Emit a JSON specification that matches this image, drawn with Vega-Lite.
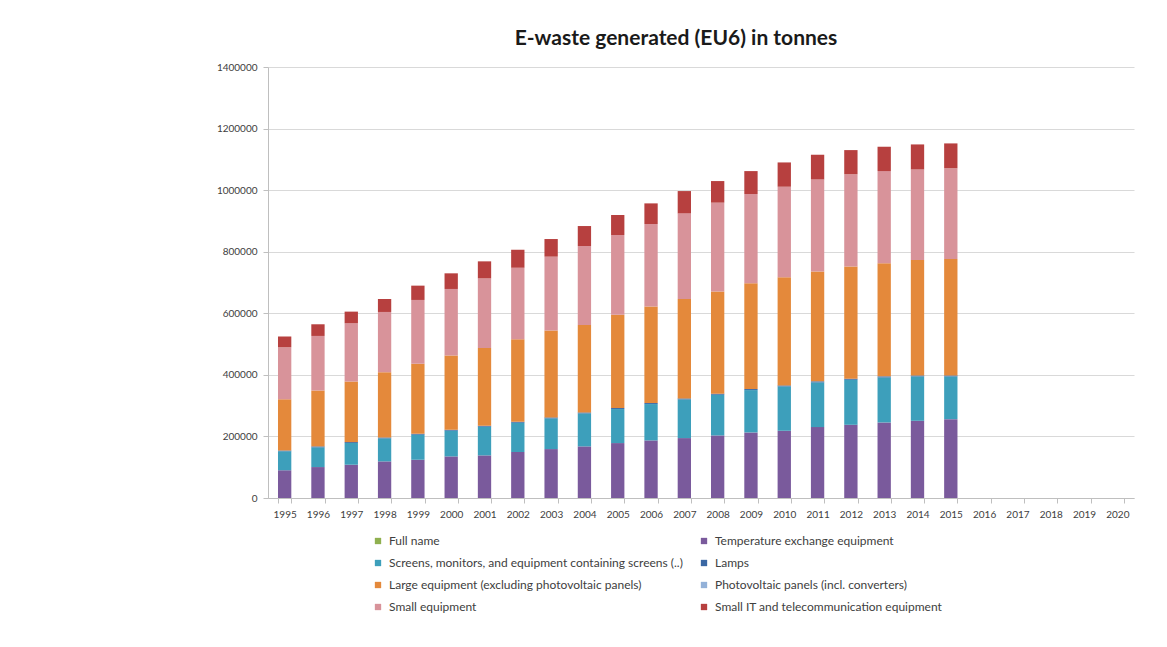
{
  "$schema": "https://vega.github.io/schema/vega-lite/v6.json",
  "autosize": {"type": "none"},
  "width": 866,
  "height": 431,
  "padding": {"left": 268, "top": 67, "right": 33, "bottom": 149},
  "background": "white",
  "title": {"text": "E-waste generated (EU6) in tonnes", "fontSize": 21, "fontWeight": "bold", "font": "Lato", "color": "#1a1a1a", "anchor": "middle", "dx": -25, "offset": 13},
  "config": {"view": {"stroke": null}, "font": "Lato"},
  "datasets": {
    "cats": [
      {"cat": "Full name", "rank": 0},
      {"cat": "Temperature exchange equipment", "rank": 1},
      {"cat": "Screens, monitors, and equipment containing screens (..)", "rank": 2},
      {"cat": "Lamps", "rank": 3},
      {"cat": "Large equipment (excluding photovoltaic panels)", "rank": 4},
      {"cat": "Photovoltaic panels (incl. converters)", "rank": 5},
      {"cat": "Small equipment", "rank": 6},
      {"cat": "Small IT and telecommunication equipment", "rank": 7}
    ]
  },
  "data": {"values": [
    {"year": 1995, "cat": "Temperature exchange equipment", "value": 90000},
    {"year": 1995, "cat": "Screens, monitors, and equipment containing screens (..)", "value": 61600},
    {"year": 1995, "cat": "Lamps", "value": 3000},
    {"year": 1995, "cat": "Large equipment (excluding photovoltaic panels)", "value": 166400},
    {"year": 1995, "cat": "Small equipment", "value": 168700},
    {"year": 1995, "cat": "Small IT and telecommunication equipment", "value": 34600},
    {"year": 1996, "cat": "Temperature exchange equipment", "value": 100500},
    {"year": 1996, "cat": "Screens, monitors, and equipment containing screens (..)", "value": 64100},
    {"year": 1996, "cat": "Lamps", "value": 3000},
    {"year": 1996, "cat": "Large equipment (excluding photovoltaic panels)", "value": 181600},
    {"year": 1996, "cat": "Small equipment", "value": 177200},
    {"year": 1996, "cat": "Small IT and telecommunication equipment", "value": 37900},
    {"year": 1997, "cat": "Temperature exchange equipment", "value": 108100},
    {"year": 1997, "cat": "Screens, monitors, and equipment containing screens (..)", "value": 70500},
    {"year": 1997, "cat": "Lamps", "value": 3000},
    {"year": 1997, "cat": "Large equipment (excluding photovoltaic panels)", "value": 196800},
    {"year": 1997, "cat": "Small equipment", "value": 189100},
    {"year": 1997, "cat": "Small IT and telecommunication equipment", "value": 37900},
    {"year": 1998, "cat": "Temperature exchange equipment", "value": 118900},
    {"year": 1998, "cat": "Screens, monitors, and equipment containing screens (..)", "value": 74800},
    {"year": 1998, "cat": "Lamps", "value": 3000},
    {"year": 1998, "cat": "Large equipment (excluding photovoltaic panels)", "value": 211900},
    {"year": 1998, "cat": "Small equipment", "value": 195700},
    {"year": 1998, "cat": "Small IT and telecommunication equipment", "value": 42100},
    {"year": 1999, "cat": "Temperature exchange equipment", "value": 124300},
    {"year": 1999, "cat": "Screens, monitors, and equipment containing screens (..)", "value": 81300},
    {"year": 1999, "cat": "Lamps", "value": 3100},
    {"year": 1999, "cat": "Large equipment (excluding photovoltaic panels)", "value": 227000},
    {"year": 1999, "cat": "Small equipment", "value": 207600},
    {"year": 1999, "cat": "Small IT and telecommunication equipment", "value": 46500},
    {"year": 2000, "cat": "Temperature exchange equipment", "value": 135100},
    {"year": 2000, "cat": "Screens, monitors, and equipment containing screens (..)", "value": 83500},
    {"year": 2000, "cat": "Lamps", "value": 3100},
    {"year": 2000, "cat": "Large equipment (excluding photovoltaic panels)", "value": 241100},
    {"year": 2000, "cat": "Small equipment", "value": 216200},
    {"year": 2000, "cat": "Small IT and telecommunication equipment", "value": 50800},
    {"year": 2001, "cat": "Temperature exchange equipment", "value": 138400},
    {"year": 2001, "cat": "Screens, monitors, and equipment containing screens (..)", "value": 93200},
    {"year": 2001, "cat": "Lamps", "value": 3100},
    {"year": 2001, "cat": "Large equipment (excluding photovoltaic panels)", "value": 252900},
    {"year": 2001, "cat": "Small equipment", "value": 226000},
    {"year": 2001, "cat": "Small IT and telecommunication equipment", "value": 55100},
    {"year": 2002, "cat": "Temperature exchange equipment", "value": 149200},
    {"year": 2002, "cat": "Screens, monitors, and equipment containing screens (..)", "value": 95300},
    {"year": 2002, "cat": "Lamps", "value": 3200},
    {"year": 2002, "cat": "Large equipment (excluding photovoltaic panels)", "value": 268100},
    {"year": 2002, "cat": "Small equipment", "value": 232500},
    {"year": 2002, "cat": "Small IT and telecommunication equipment", "value": 58300},
    {"year": 2003, "cat": "Temperature exchange equipment", "value": 158900},
    {"year": 2003, "cat": "Screens, monitors, and equipment containing screens (..)", "value": 99700},
    {"year": 2003, "cat": "Lamps", "value": 3200},
    {"year": 2003, "cat": "Large equipment (excluding photovoltaic panels)", "value": 282100},
    {"year": 2003, "cat": "Small equipment", "value": 240000},
    {"year": 2003, "cat": "Small IT and telecommunication equipment", "value": 57300},
    {"year": 2004, "cat": "Temperature exchange equipment", "value": 167600},
    {"year": 2004, "cat": "Screens, monitors, and equipment containing screens (..)", "value": 107200},
    {"year": 2004, "cat": "Lamps", "value": 3200},
    {"year": 2004, "cat": "Large equipment (excluding photovoltaic panels)", "value": 284300},
    {"year": 2004, "cat": "Small equipment", "value": 256200},
    {"year": 2004, "cat": "Small IT and telecommunication equipment", "value": 64900},
    {"year": 2005, "cat": "Temperature exchange equipment", "value": 178400},
    {"year": 2005, "cat": "Screens, monitors, and equipment containing screens (..)", "value": 110500},
    {"year": 2005, "cat": "Lamps", "value": 3300},
    {"year": 2005, "cat": "Large equipment (excluding photovoltaic panels)", "value": 302700},
    {"year": 2005, "cat": "Small equipment", "value": 259400},
    {"year": 2005, "cat": "Small IT and telecommunication equipment", "value": 64900},
    {"year": 2006, "cat": "Temperature exchange equipment", "value": 187000},
    {"year": 2006, "cat": "Screens, monitors, and equipment containing screens (..)", "value": 118100},
    {"year": 2006, "cat": "Lamps", "value": 3300},
    {"year": 2006, "cat": "Large equipment (excluding photovoltaic panels)", "value": 313500},
    {"year": 2006, "cat": "Small equipment", "value": 268100},
    {"year": 2006, "cat": "Small IT and telecommunication equipment", "value": 67000},
    {"year": 2007, "cat": "Temperature exchange equipment", "value": 194600},
    {"year": 2007, "cat": "Screens, monitors, and equipment containing screens (..)", "value": 125600},
    {"year": 2007, "cat": "Lamps", "value": 3300},
    {"year": 2007, "cat": "Large equipment (excluding photovoltaic panels)", "value": 323200},
    {"year": 2007, "cat": "Small equipment", "value": 277900},
    {"year": 2007, "cat": "Small IT and telecommunication equipment", "value": 72400},
    {"year": 2008, "cat": "Temperature exchange equipment", "value": 203200},
    {"year": 2008, "cat": "Screens, monitors, and equipment containing screens (..)", "value": 132200},
    {"year": 2008, "cat": "Lamps", "value": 3400},
    {"year": 2008, "cat": "Large equipment (excluding photovoltaic panels)", "value": 331800},
    {"year": 2008, "cat": "Small equipment", "value": 288700},
    {"year": 2008, "cat": "Small IT and telecommunication equipment", "value": 70200},
    {"year": 2009, "cat": "Temperature exchange equipment", "value": 213000},
    {"year": 2009, "cat": "Screens, monitors, and equipment containing screens (..)", "value": 137500},
    {"year": 2009, "cat": "Lamps", "value": 3400},
    {"year": 2009, "cat": "Large equipment (excluding photovoltaic panels)", "value": 343700},
    {"year": 2009, "cat": "Small equipment", "value": 289800},
    {"year": 2009, "cat": "Small IT and telecommunication equipment", "value": 74500},
    {"year": 2010, "cat": "Temperature exchange equipment", "value": 218400},
    {"year": 2010, "cat": "Screens, monitors, and equipment containing screens (..)", "value": 144000},
    {"year": 2010, "cat": "Lamps", "value": 3400},
    {"year": 2010, "cat": "Large equipment (excluding photovoltaic panels)", "value": 351300},
    {"year": 2010, "cat": "Small equipment", "value": 294000},
    {"year": 2010, "cat": "Small IT and telecommunication equipment", "value": 78900},
    {"year": 2011, "cat": "Temperature exchange equipment", "value": 230300},
    {"year": 2011, "cat": "Screens, monitors, and equipment containing screens (..)", "value": 145100},
    {"year": 2011, "cat": "Lamps", "value": 3500},
    {"year": 2011, "cat": "Large equipment (excluding photovoltaic panels)", "value": 356700},
    {"year": 2011, "cat": "Small equipment", "value": 299400},
    {"year": 2011, "cat": "Small IT and telecommunication equipment", "value": 80000},
    {"year": 2012, "cat": "Temperature exchange equipment", "value": 237800},
    {"year": 2012, "cat": "Screens, monitors, and equipment containing screens (..)", "value": 146200},
    {"year": 2012, "cat": "Lamps", "value": 3500},
    {"year": 2012, "cat": "Large equipment (excluding photovoltaic panels)", "value": 364300},
    {"year": 2012, "cat": "Small equipment", "value": 299400},
    {"year": 2012, "cat": "Small IT and telecommunication equipment", "value": 78900},
    {"year": 2013, "cat": "Temperature exchange equipment", "value": 245400},
    {"year": 2013, "cat": "Screens, monitors, and equipment containing screens (..)", "value": 146200},
    {"year": 2013, "cat": "Lamps", "value": 3500},
    {"year": 2013, "cat": "Large equipment (excluding photovoltaic panels)", "value": 367500},
    {"year": 2013, "cat": "Small equipment", "value": 299400},
    {"year": 2013, "cat": "Small IT and telecommunication equipment", "value": 79000},
    {"year": 2014, "cat": "Temperature exchange equipment", "value": 250800},
    {"year": 2014, "cat": "Screens, monitors, and equipment containing screens (..)", "value": 144000},
    {"year": 2014, "cat": "Lamps", "value": 3500},
    {"year": 2014, "cat": "Large equipment (excluding photovoltaic panels)", "value": 375100},
    {"year": 2014, "cat": "Small equipment", "value": 294100},
    {"year": 2014, "cat": "Small IT and telecommunication equipment", "value": 81000},
    {"year": 2015, "cat": "Temperature exchange equipment", "value": 256200},
    {"year": 2015, "cat": "Screens, monitors, and equipment containing screens (..)", "value": 138600},
    {"year": 2015, "cat": "Lamps", "value": 3500},
    {"year": 2015, "cat": "Large equipment (excluding photovoltaic panels)", "value": 378400},
    {"year": 2015, "cat": "Small equipment", "value": 294000},
    {"year": 2015, "cat": "Small IT and telecommunication equipment", "value": 81100}
  ]},
  "transform": [
    {"lookup": "cat", "from": {"data": {"name": "cats"}, "key": "cat", "fields": ["rank"]}}
  ],
  "mark": {"type": "bar"},
  "encoding": {
    "x": {
      "field": "year", "type": "ordinal",
      "scale": {"domain": [1995,1996,1997,1998,1999,2000,2001,2002,2003,2004,2005,2006,2007,2008,2009,2010,2011,2012,2013,2014,2015,2016,2017,2018,2019,2020], "paddingInner": 0.6, "paddingOuter": 0.3},
      "axis": {"title": null, "labelAngle": 0, "labelFontSize": 10, "labelColor": "#404040", "domainColor": "#bfbfbf", "tickColor": "#bfbfbf", "tickSize": 5, "tickBand": "extent", "labelPadding": 6, "grid": false}
    },
    "y": {
      "field": "value", "type": "quantitative", "stack": "zero",
      "scale": {"domain": [0, 1400000], "nice": false},
      "axis": {"title": null, "values": [0,200000,400000,600000,800000,1000000,1200000,1400000], "format": "d", "labelFontSize": 10, "labelColor": "#404040", "gridColor": "#d9d9d9", "domain": true, "domainColor": "#bfbfbf", "tickColor": "#bfbfbf", "tickSize": 5, "labelPadding": 6}
    },
    "order": {"field": "rank", "type": "quantitative", "sort": "ascending"},
    "color": {
      "field": "cat", "type": "nominal",
      "scale": {
        "domain": ["Full name", "Temperature exchange equipment", "Screens, monitors, and equipment containing screens (..)", "Lamps", "Large equipment (excluding photovoltaic panels)", "Photovoltaic panels (incl. converters)", "Small equipment", "Small IT and telecommunication equipment"],
        "range": ["#8fb04f", "#7a5a9c", "#3d9fbb", "#3a67a3", "#e4893b", "#93b1d8", "#d8939a", "#b7403f"]
      },
      "legend": {"title": null, "orient": "none", "legendX": 104, "legendY": 468, "columns": 2, "direction": "horizontal", "symbolType": "square", "symbolSize": 40, "symbolStrokeWidth": 0, "labelFontSize": 12, "labelColor": "#404040", "labelLimit": 400, "rowPadding": 10, "columnPadding": 15, "labelOffset": 5}
    }
  }
}
